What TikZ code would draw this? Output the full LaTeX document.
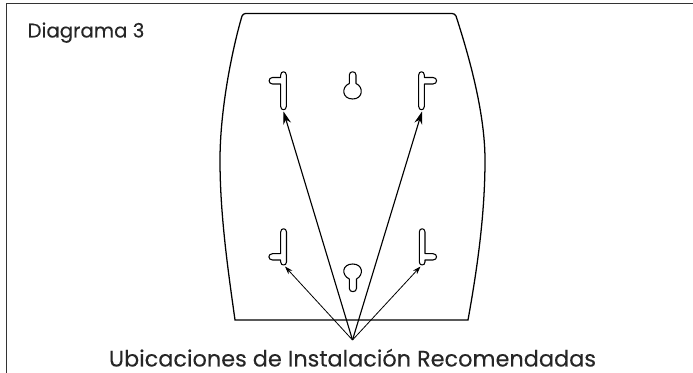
\documentclass[tikz,border=0pt]{standalone}
\usepackage{fontspec}
\setmainfont[FakeBold=0.2]{Poppins}
\usetikzlibrary{arrows.meta}
\tikzset{
  px/.style={x=0.75pt,y=-0.75pt},
  outline/.style={draw=black,line width=0.95pt},
  frameline/.style={draw=black!80,line width=0.95pt},
  slot/.style={draw=black,line width=0.8pt,fill=white,line join=round},
  pointer/.style={draw=black,line width=0.85pt,-{Stealth[length=9.5pt,width=6pt]}},
  smallpointer/.style={draw=black,line width=0.6pt,-{Stealth[length=6pt,width=4pt]}},
  caption/.style={text=black!85,inner sep=0pt,anchor=base}
}
\begin{document}
\begin{tikzpicture}[px]
\useasboundingbox (0,0) rectangle (693,373);
\draw[frameline] (6.5,373) -- (6.5,3.5) -- (693,3.5);
\draw[outline] (245.5,13.5) -- (452,13.5) .. controls (454,13.5) and (455,14.5) .. (456,16)
  .. controls (467,50) and (485,110) .. (485,160)
  .. controls (485,215) and (477,270) .. (468,320) -- (235,320)
  .. controls (228,270) and (220,215) .. (220,160)
  .. controls (220,110) and (232,50) .. (242,16)
  .. controls (243,14.5) and (244,13.5) .. (245.5,13.5) -- cycle;
\coordinate (apex) at (352.5,340);
\coordinate (tl) at (283.5,111.5);
\coordinate (tr) at (422,111.5);
\coordinate (bl) at (285,266.5);
\coordinate (br) at (420.5,266.5);
% upper left slot
\draw[slot] (280.7,75) .. controls (280.7,70.7) and (286.3,70.7) .. (286.3,75) -- (286.3,106.5)
  .. controls (286.3,110.8) and (280.7,110.8) .. (280.7,106.5) -- (280.7,84)
  -- (272.5,84) .. controls (268,84) and (268,77.5) .. (272.5,77.5) -- (280.7,77.5) -- cycle;
% upper right slot
\draw[slot] (418.7,75) .. controls (418.7,70.7) and (424.3,70.7) .. (424.3,75) -- (424.3,77.5)
  -- (433,77.5) .. controls (437.7,77.5) and (437.7,84) .. (433,84) -- (424.3,84) -- (424.3,106.5)
  .. controls (424.3,110.8) and (418.7,110.8) .. (418.7,106.5) -- cycle;
% lower left slot
\draw[slot] (280.7,232) .. controls (280.7,227.7) and (286.5,227.7) .. (286.5,232) -- (286.5,262)
  .. controls (286.5,266) and (280.7,266) .. (280.7,262) -- (280.7,260)
  -- (272.5,260) .. controls (267.7,260) and (267.7,253.7) .. (272.5,253.7) -- (280.7,253.7) -- cycle;
% lower right slot
\draw[slot] (419.3,232) .. controls (419.3,227.7) and (425,227.7) .. (425,232) -- (425,253.7)
  -- (433,253.7) .. controls (437.7,253.7) and (437.7,260) .. (433,260) -- (425,260) -- (425,262)
  .. controls (425,266) and (419.3,266) .. (419.3,262) -- cycle;
% keyholes
\draw[slot] (349.3,75) .. controls (349.3,70.7) and (356,70.7) .. (356,75) -- (356,83.5)
  .. controls (364,87) and (363,99) .. (352.7,99)
  .. controls (342,99) and (341,87) .. (349.3,83.5) -- cycle;
\draw[slot] (349.3,279) .. controls (341,275) and (342,264) .. (352.7,264)
  .. controls (363,264) and (364,275) .. (356.5,279) -- (356.5,288.5)
  .. controls (356.5,292.7) and (349.3,292.7) .. (349.3,288.5) -- cycle;
\draw[pointer] (apex) -- (tl);
\draw[pointer] (apex) -- (tr);
\draw[smallpointer] (apex) -- (bl);
\draw[smallpointer] (apex) -- (br);
\node[caption,font=\fontsize{14.8}{17}\selectfont] (title) at (86,37.5) {Diagrama 3};
\node[caption,font=\fontsize{16.8}{20}\selectfont] (cap) at (352.5,366.5) {Ubicaciones de Instalación Recomendadas};
\end{tikzpicture}
\end{document}
